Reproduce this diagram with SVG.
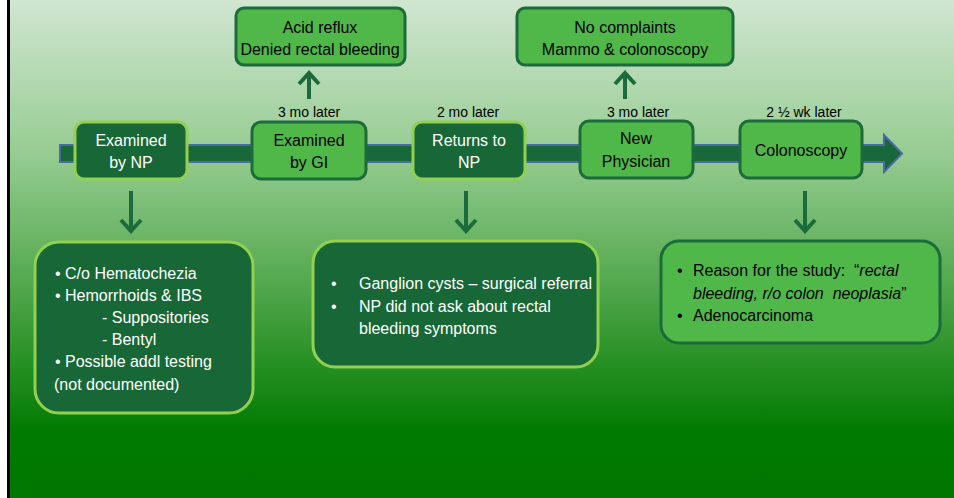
<svg xmlns="http://www.w3.org/2000/svg" width="954" height="498" viewBox="0 0 954 498">
<defs>
<linearGradient id="bg" x1="0" y1="0" x2="0" y2="1">
<stop offset="0" stop-color="#d0e6d0"/>
<stop offset="0.3" stop-color="#98cd94"/>
<stop offset="0.55" stop-color="#58ab52"/>
<stop offset="0.87" stop-color="#007a00"/>
<stop offset="1" stop-color="#007800"/>
</linearGradient>
</defs>
<style>
.dark{fill:#176836;stroke:#92d050;stroke-width:3}
.light{fill:#50b848;stroke:#1c6b3c;stroke-width:3}
.t{font-family:"Liberation Sans",Arial,sans-serif;font-size:16px;white-space:pre}
.w{fill:#ffffff}
.b{fill:#000000}
.lab{font-family:"Liberation Sans",Arial,sans-serif;font-size:14px;fill:#000;text-anchor:middle}
.c{text-anchor:middle}
.arr{stroke:#1c6b3c;stroke-width:4;fill:none}
</style>
<rect x="0" y="0" width="954" height="498" fill="#ffffff"/>
<rect x="10" y="0" width="944" height="498" fill="url(#bg)"/>
<rect x="7" y="0" width="3" height="498" fill="#000"/>

<g id="timeline">
<polygon points="60,145 884,145 884,135 902,153.5 884,172 884,162 60,162" fill="#17693a" stroke="#4a6aa0" stroke-width="2"/>
</g>

<g id="connectors">
<path class="arr" d="M309,99 V74 M299,84 L309,73 L319,84"/>
<path class="arr" d="M625,99 V74 M615,84 L625,73 L635,84"/>
<path class="arr" d="M131,191 V231 M121,220 L131,231 L141,220"/>
<path class="arr" d="M466,191 V231 M456,220 L466,231 L476,220"/>
<path class="arr" d="M805,191 V231 M795,220 L805,231 L815,220"/>
</g>

<g id="lbl1"><text class="lab" x="309" y="117">3 mo later</text></g>
<g id="lbl2"><text class="lab" x="468" y="117">2 mo later</text></g>
<g id="lbl3"><text class="lab" x="638" y="117">3 mo later</text></g>
<g id="lbl4"><text class="lab" x="804" y="117">2 ½ wk later</text></g>

<g id="n1">
<rect class="dark" x="75" y="122" width="112" height="57" rx="9"/>
<text class="t w c" x="131" y="146">Examined</text>
<text class="t w c" x="131" y="168">by NP</text>
</g>
<g id="n2">
<rect class="light" x="252" y="122" width="114" height="57" rx="9"/>
<text class="t b c" x="309" y="146">Examined</text>
<text class="t b c" x="309" y="168">by GI</text>
</g>
<g id="n3">
<rect class="dark" x="413" y="122" width="112" height="57" rx="9"/>
<text class="t w c" x="469" y="146">Returns to</text>
<text class="t w c" x="469" y="168">NP</text>
</g>
<g id="n4">
<rect class="light" x="580" y="121" width="113" height="57" rx="9"/>
<text class="t b c" x="636" y="144">New</text>
<text class="t b c" x="636" y="167">Physician</text>
</g>
<g id="n5">
<rect class="light" x="740" y="121" width="122" height="57" rx="9"/>
<text class="t b c" x="801" y="156">Colonoscopy</text>
</g>

<g id="top1">
<rect class="light" x="236" y="8" width="169" height="57" rx="8"/>
<text class="t b c" x="320" y="33">Acid reflux</text>
<text class="t b c" x="320" y="55">Denied rectal bleeding</text>
</g>
<g id="top2">
<rect class="light" x="517" y="8" width="216" height="57" rx="8"/>
<text class="t b c" x="625" y="33">No complaints</text>
<text class="t b c" x="625" y="55">Mammo &amp; colonoscopy</text>
</g>

<g id="b1">
<rect class="dark" x="35" y="242" width="218" height="171" rx="24"/>
<text class="t w" x="55" y="279">• C/o Hematochezia</text>
<text class="t w" x="55" y="301">• Hemorrhoids &amp; IBS</text>
<text class="t w" x="102" y="323">- Suppositories</text>
<text class="t w" x="102" y="345">- Bentyl</text>
<text class="t w" x="55" y="367">• Possible addl testing</text>
<text class="t w" x="54" y="390">(not documented)</text>
</g>
<g id="b2">
<rect class="dark" x="313" y="241" width="285" height="126" rx="22"/>
<text class="t w" x="331" y="289">•</text>
<text class="t w" x="359" y="289">Ganglion cysts – surgical referral</text>
<text class="t w" x="331" y="312">•</text>
<text class="t w" x="359" y="312">NP did not ask about rectal</text>
<text class="t w" x="359" y="334">bleeding symptoms</text>
</g>
<g id="b3">
<rect class="light" x="661" y="241" width="279" height="102" rx="18"/>
<text class="t b" x="677" y="276">•</text>
<text class="t b" x="693" y="276">Reason for the study:  “<tspan font-style="italic">rectal</tspan></text>
<text class="t b" x="693" y="299"><tspan font-style="italic">bleeding, r/o colon  neoplasia</tspan>”</text>
<text class="t b" x="677" y="321">•</text>
<text class="t b" x="693" y="321">Adenocarcinoma</text>
</g>
</svg>
